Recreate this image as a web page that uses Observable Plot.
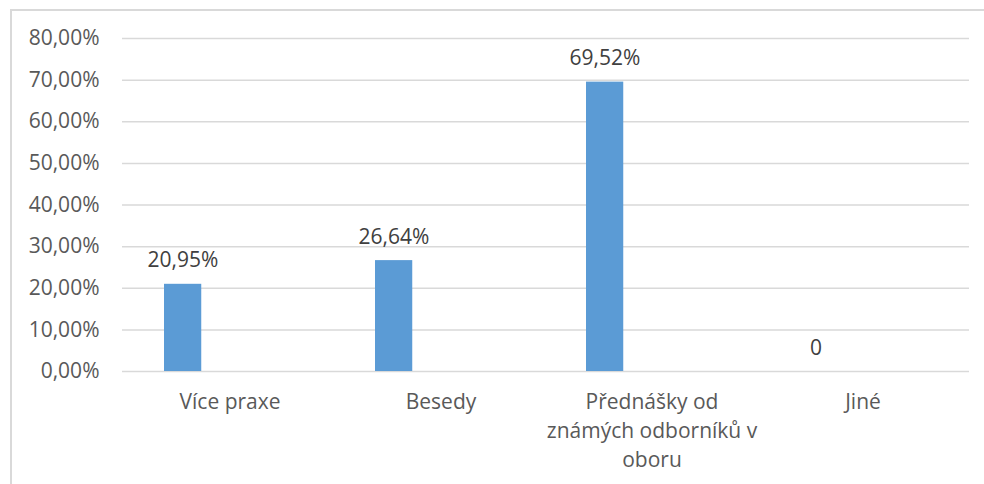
<!DOCTYPE html>
<html>
<head>
<meta charset="utf-8">
<script src="https://cdn.jsdelivr.net/npm/d3@7"></script>
<script src="https://cdn.jsdelivr.net/npm/@observablehq/plot@0.6"></script>
<style>
  html, body { margin: 0; padding: 0; background: #fff; }
  #wrap { position: relative; width: 984px; height: 484px; overflow: hidden; }
  #frame { position: absolute; left: 10px; top: 9px; width: 990px; height: 500px;
           border-top: 2px solid #d9d9d9; border-left: 2px solid #d9d9d9; box-sizing: border-box; }
  #chart { position: absolute; left: 0; top: 0; }
</style>
</head>
<body>
<div id="wrap"><div id="frame"></div><div id="chart"></div></div>
<script>
const categories = ["Více praxe", "Besedy", "Přednášky od známých odborníků v oboru", "Jiné"];
const axisLabels = ["Více praxe", "Besedy", "Přednášky od\nznámých odborníků v\noboru", "Jiné"];
const values = [0.2095, 0.2664, 0.6952, 0];
const dataLabels = ["20,95%", "26,64%", "69,52%", "0"];
const yTicks = [0, 0.1, 0.2, 0.3, 0.4, 0.5, 0.6, 0.7, 0.8];

const data = categories.map((c, i) => ({category: c, value: values[i], label: dataLabels[i]}));
const labelOf = new Map(categories.map((c, i) => [c, axisLabels[i]]));
const fmtPct = d => (d * 100).toFixed(2).replace(".", ",") + "%";

const chart = Plot.plot({
  width: 984,
  height: 484,
  marginLeft: 122,
  marginRight: 15,
  marginTop: 38,
  marginBottom: 113,
  style: {fontFamily: "'Open Sans', sans-serif", fontSize: "21px", background: "transparent"},
  x: {type: "band", domain: categories, padding: 0},
  y: {domain: [0, 0.8]},
  marks: [
    Plot.gridY(yTicks, {stroke: "#d9d9d9", strokeOpacity: 1, strokeWidth: 1.5}),
    Plot.axisY(yTicks, {tickSize: 0, tickPadding: 23, tickFormat: fmtPct, fill: "#595959", fontSize: 21, label: null}),
    Plot.axisX({tickSize: 0, tickPadding: 17, tickFormat: d => labelOf.get(d), fill: "#595959", fontSize: 21, lineHeight: 1.38, label: null}),
    Plot.barY(data, {x: "category", y: "value", fill: "#5b9bd5", insetLeft: 40, insetRight: 133.75}),
    Plot.text(data, {x: "category", y: "value", text: "label", dx: -47, dy: -17, lineAnchor: "bottom", fill: "#404040", fontSize: 21})
  ]
});
document.getElementById("chart").appendChild(chart);
</script>
</body>
</html>
